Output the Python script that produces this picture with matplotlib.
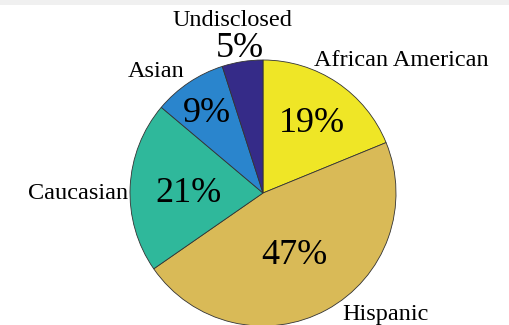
import numpy as np
import matplotlib
matplotlib.use("Agg")
import matplotlib.pyplot as plt
import matplotlib.patches as patches

plt.rcParams['font.family'] = ['Liberation Serif', 'DejaVu Serif']

# data
groups = ["African American", "Hispanic", "Caucasian", "Asian", "Undisclosed"]
shares = [19, 47, 21, 9, 5]
share_labels = ["19%", "47%", "21%", "9%", "5%"]

# parula-like colours
colors = ["#efe626", "#d9ba57", "#2fb89b", "#2a85cd", "#352b88"]

# radial placement of percent text (in pie radii)
pct_radius = [0.66, 0.50, 0.56, 0.75, 1.125]
# category label positions (data units, pie radius = 1)
name_pos = [(1.04, 1.00, "center"), (0.92, -0.91, "center"),
            (-1.015, 0.0, "right"), (-0.80, 0.91, "center"),
            (-0.23, 1.30, "center")]

fig = plt.figure(figsize=(5.1, 3.25), dpi=100)
ax = fig.add_axes([0, 0, 1, 1])

wedges, _ = ax.pie(shares, colors=colors, startangle=90, counterclock=False,
                   wedgeprops=dict(edgecolor="#333333", linewidth=0.6))

ax.set_xlim(-263 / 133, (510 - 263) / 133)
ax.set_ylim(-132 / 133, 193 / 133)
ax.axis('off')

for w, lab, r in zip(wedges, share_labels, pct_radius):
    mid = np.deg2rad((w.theta1 + w.theta2) / 2)
    ax.text(r * np.cos(mid), r * np.sin(mid) - 0.028, lab, ha="center",
            va="center", fontsize=26)

for name, (x, y, ha) in zip(groups, name_pos):
    ax.text(x, y, name, ha=ha, va="center", fontsize=17.5)

# light grey strip along the top
fig.patches.append(patches.Rectangle((0, 1 - 5 / 325), 1, 5 / 325,
                                     transform=fig.transFigure,
                                     facecolor="#f0f0f0", edgecolor="none"))

fig.savefig("out.png", dpi=100)
